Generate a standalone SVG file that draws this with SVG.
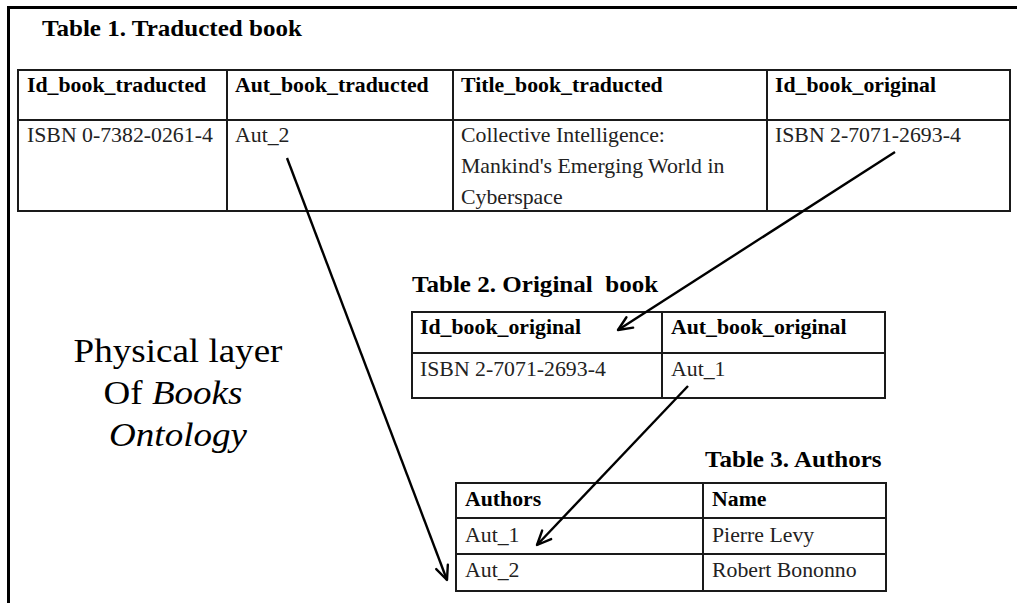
<svg xmlns="http://www.w3.org/2000/svg" width="1017" height="603" viewBox="0 0 1017 603">
  <style>
    .frame { fill: none; stroke: #000; stroke-width: 3; }
    .cell { fill: #fff; stroke: #1a1a1a; stroke-width: 2; }
    .rule { stroke: #1a1a1a; stroke-width: 2; }
    .title { font-family: "Liberation Serif", "Times New Roman", serif; font-weight: bold; font-size: 23px; fill: #000; white-space: pre; }
    .head { font-family: "Liberation Serif", "Times New Roman", serif; font-weight: bold; font-size: 20px; fill: #000; }
    .val { font-family: "Liberation Serif", "Times New Roman", serif; font-size: 20px; fill: #222; }
    .big { font-family: "Liberation Serif", "Times New Roman", serif; font-size: 34px; fill: #000; text-anchor: middle; }
    .link { fill: none; stroke: #000; stroke-width: 2.4; }
  </style>
  <defs>
    <marker id="open-arrow" viewBox="0 0 18 16" refX="16" refY="8" markerWidth="18" markerHeight="16" markerUnits="userSpaceOnUse" orient="auto">
      <path d="M2,1.8 L16,8 L2,14.2" fill="none" stroke="#000" stroke-width="2.4" stroke-linecap="round" stroke-linejoin="round"/>
    </marker>
  </defs>

  <rect width="1017" height="603" fill="#fff"/>
  <path class="frame" d="M8.5,603 L8.5,7.5 L1017,7.5"/>

  <!-- Table 1: translated book -->
  <g id="table-traducted">
    <text class="title" transform="translate(42 36) scale(1.09 1)">Table 1. Traducted book</text>
    <rect class="cell" x="18" y="70" width="992" height="141"/>
    <line class="rule" x1="18" y1="120" x2="1010" y2="120"/>
    <line class="rule" x1="227" y1="70" x2="227" y2="211"/>
    <line class="rule" x1="453" y1="70" x2="453" y2="211"/>
    <line class="rule" x1="767" y1="70" x2="767" y2="211"/>
    <text class="head" transform="translate(27 92) scale(1.09 1)">Id_book_traducted</text>
    <text class="head" transform="translate(235 92) scale(1.09 1)">Aut_book_traducted</text>
    <text class="head" transform="translate(461 92) scale(1.09 1)">Title_book_traducted</text>
    <text class="head" transform="translate(775 92) scale(1.09 1)">Id_book_original</text>
    <text class="val" transform="translate(27 142) scale(1.09 1)">ISBN 0-7382-0261-4</text>
    <text class="val" transform="translate(235 142) scale(1.09 1)">Aut_2</text>
    <text class="val" transform="translate(461 142) scale(1.09 1)">
      <tspan x="0" y="0">Collective Intelligence:</tspan>
      <tspan x="0" y="31">Mankind's Emerging World in</tspan>
      <tspan x="0" y="62">Cyberspace</tspan>
    </text>
    <text class="val" transform="translate(775 142) scale(1.09 1)">ISBN 2-7071-2693-4</text>
  </g>

  <!-- Table 2: original book -->
  <g id="table-original">
    <text class="title" transform="translate(412 292) scale(1.09 1)">Table 2. Original  book</text>
    <rect class="cell" x="412" y="312" width="473" height="86"/>
    <line class="rule" x1="412" y1="353" x2="885" y2="353"/>
    <line class="rule" x1="662" y1="312" x2="662" y2="398"/>
    <text class="head" transform="translate(420 334) scale(1.09 1)">Id_book_original</text>
    <text class="head" transform="translate(671 334) scale(1.09 1)">Aut_book_original</text>
    <text class="val" transform="translate(420 376) scale(1.09 1)">ISBN 2-7071-2693-4</text>
    <text class="val" transform="translate(671 376) scale(1.09 1)">Aut_1</text>
  </g>

  <!-- Table 3: authors -->
  <g id="table-authors">
    <text class="title" transform="translate(705 467) scale(1.09 1)">Table 3. Authors</text>
    <rect class="cell" x="456" y="483" width="430" height="108"/>
    <line class="rule" x1="456" y1="518" x2="886" y2="518"/>
    <line class="rule" x1="456" y1="554" x2="886" y2="554"/>
    <line class="rule" x1="703" y1="483" x2="703" y2="591"/>
    <text class="head" transform="translate(465 506) scale(1.09 1)">Authors</text>
    <text class="head" transform="translate(712 506) scale(1.09 1)">Name</text>
    <text class="val" transform="translate(465 542) scale(1.09 1)">Aut_1</text>
    <text class="val" transform="translate(712 542) scale(1.09 1)">Pierre Levy</text>
    <text class="val" transform="translate(465 577) scale(1.09 1)">Aut_2</text>
    <text class="val" transform="translate(712 577) scale(1.09 1)">Robert Bononno</text>
  </g>

  <!-- Layer caption -->
  <g id="layer-caption">
    <text class="big" transform="translate(178 362) scale(1.09 1)">Physical layer</text>
    <text class="big" transform="translate(173 404) scale(1.09 1)" font-size="35">Of <tspan font-style="italic">Books</tspan></text>
    <text class="big" transform="translate(178 446) scale(1.09 1)" font-size="35" font-style="italic">Ontology</text>
  </g>

  <!-- Foreign-key links -->
  <g id="connectors">
    <line class="link" x1="287" y1="158" x2="447" y2="580" marker-end="url(#open-arrow)"/>
    <line class="link" x1="895" y1="152" x2="618" y2="330" marker-end="url(#open-arrow)"/>
    <line class="link" x1="688" y1="386" x2="537" y2="545" marker-end="url(#open-arrow)"/>
  </g>
</svg>
